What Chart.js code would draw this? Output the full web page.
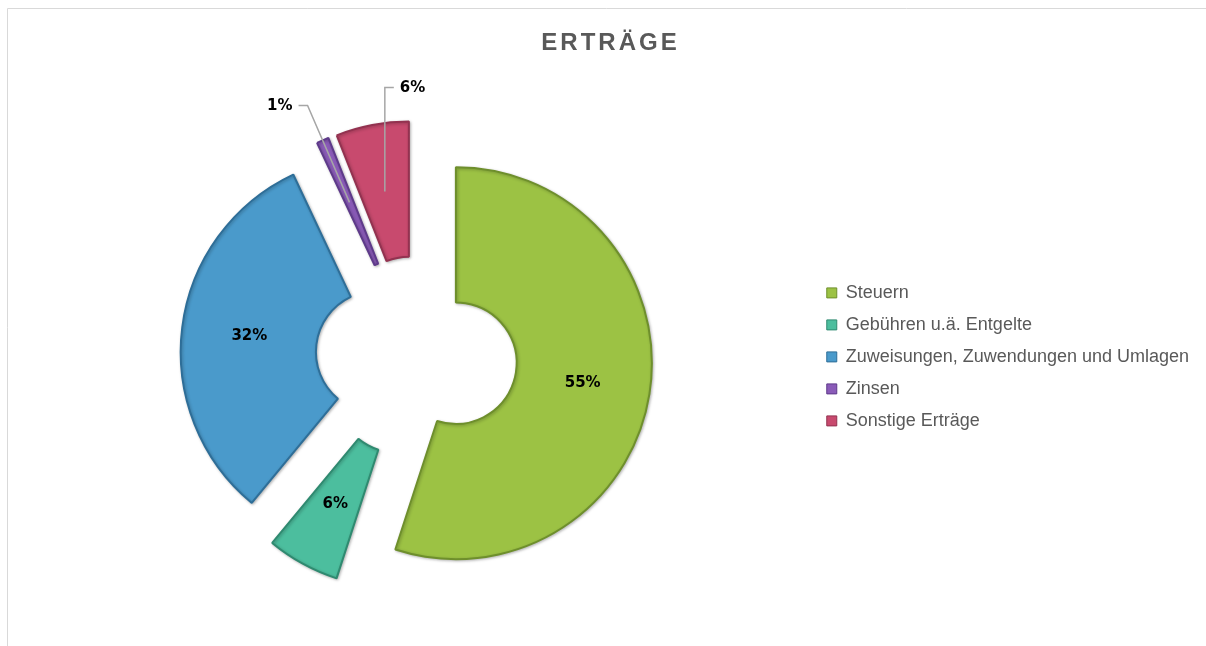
<!DOCTYPE html>
<html>
<head>
<meta charset="utf-8">
<title>Erträge</title>
<script src="https://cdn.jsdelivr.net/npm/chart.js@4.4.1/dist/chart.umd.min.js"></script>
<style>
  html, body { margin: 0; padding: 0; background: #fff; }
  canvas { display: block; }
</style>
</head>
<body>
<canvas id="chart" width="1206" height="646"></canvas>
<script>
'use strict';

// ── Data ────────────────────────────────────────────────────
const categories = [
  'Steuern',
  'Gebühren u.ä. Entgelte',
  'Zuweisungen, Zuwendungen und Umlagen',
  'Zinsen',
  'Sonstige Erträge'
];
const shares = [55, 6, 32, 1, 6];

// ── Styles ──────────────────────────────────────────────────
const fillColors = ['#9cc244', '#4cbe9e', '#4a9acb', '#8a5bb8', '#c84a6e'];
const edgeColors = ['#6e8f2c', '#2f8a70', '#2e6e98', '#5e3a8a', '#933250'];
// callouts for the thin slices: which side the text sits on, how far past the rim
const callouts = [null, null, null, { side: 'left', reach: 38 }, { side: 'right', reach: 34 }];

const SHIFT = 40;           // explode distance in px
const TEXT = '#595959';

// Chart.js v4 moves an arc by offset/4 but also pushes its radius out and
// trims its angle; undo both so every slice is a plain shifted copy
const keepRadius = {
  id: 'keepRadius',
  afterDatasetsUpdate(chart) {
    chart.getDatasetMeta(0).data.forEach(arc => {
      const move = (arc.options.offset || 0) / 4;
      const fix = 1 - Math.sin(Math.min(Math.PI, arc.circumference));
      const push = move * fix;
      const drawnR = arc.outerRadius;
      arc.outerRadius -= push;
      arc.innerRadius -= push;
      const trim = push / (2 * Math.PI * drawnR);
      arc.startAngle -= trim;
      arc.endAngle += trim;
    });
  }
};

// thin frame like the spreadsheet chart box + spaced title
const frame = {
  id: 'frame',
  beforeDraw(chart) {
    const ctx = chart.ctx;
    ctx.save();
    ctx.strokeStyle = '#d9d9d9';
    ctx.lineWidth = 1;
    ctx.beginPath();
    ctx.moveTo(7.5, chart.height);
    ctx.lineTo(7.5, 8.5);
    ctx.lineTo(chart.width, 8.5);
    ctx.stroke();
    ctx.restore();

    const tb = chart.titleBlock;
    if (tb && !tb._spaced) {
      const orig = tb.draw;
      tb.draw = function (...args) {
        ctx.save();
        ctx.letterSpacing = '3px';
        ctx.translate(1, 0);
        orig.apply(this, args);
        ctx.restore();
      };
      tb._spaced = true;
    }
  },
  // soft edge shadow, like the bevelled office slices
  beforeDatasetsDraw(chart) {
    const ctx = chart.ctx;
    ctx.save();
    ctx.shadowColor = 'rgba(0,0,0,0.25)';
    ctx.shadowBlur = 3;
    ctx.shadowOffsetX = 1;
    ctx.shadowOffsetY = 1;
  },
  afterDatasetsDraw(chart) {
    chart.ctx.restore();
  }
};

// percentage labels, inside the ring or with a leader line
const sliceLabels = {
  id: 'sliceLabels',
  afterDatasetsDraw(chart) {
    const meta = chart.getDatasetMeta(0);
    const R = meta.controller.outerRadius;
    const r = meta.controller.innerRadius;
    const ctx = chart.ctx;
    ctx.save();
    ctx.font = 'bold 15px "DejaVu Sans", Verdana, sans-serif';
    ctx.fillStyle = '#000';
    ctx.textBaseline = 'middle';

    meta.data.forEach((arc, i) => {
      const mid = (arc.startAngle + arc.endAngle) / 2;
      const move = (arc.options.offset || 0) / 4;
      const cx = arc.x + Math.cos(mid) * move;
      const cy = arc.y + Math.sin(mid) * move;
      const rm = (R + r) / 2;
      const ax = cx + Math.cos(mid) * rm;
      const ay = cy + Math.sin(mid) * rm;
      const text = shares[i] + '%';
      const co = callouts[i];

      if (!co) {
        ctx.textAlign = 'center';
        ctx.fillText(text, ax, ay);
        return;
      }

      let ex, ey;
      if (co.side === 'left') {
        ex = cx + Math.cos(mid) * (R + co.reach);
        ey = cy + Math.sin(mid) * (R + co.reach);
      } else {
        ex = ax;
        ey = cy - R - co.reach;
      }
      const dir = co.side === 'left' ? -1 : 1;
      ctx.strokeStyle = '#a6a6a6';
      ctx.lineWidth = 1.5;
      ctx.beginPath();
      ctx.moveTo(ax, ay);
      ctx.lineTo(ex, ey);
      ctx.lineTo(ex + dir * 9, ey);
      ctx.stroke();
      ctx.textAlign = co.side === 'left' ? 'right' : 'left';
      ctx.fillText(text, ex + dir * 15, ey + 1);
    });
    ctx.restore();
  }
};

const ctx = document.getElementById('chart').getContext('2d');
const chart = new Chart(ctx, {
  type: 'doughnut',
  data: {
    labels: categories,
    datasets: [{
      data: shares,
      backgroundColor: fillColors,
      borderColor: edgeColors,
      borderWidth: 2,
      offset: SHIFT * 4
    }]
  },
  options: {
    responsive: false,
    animation: false,
    events: [],
    radius: 196,
    cutout: '31%',
    layout: { padding: { top: 10, left: 20, right: 7, bottom: 0 } },
    plugins: {
      title: {
        display: true,
        text: 'ERTRÄGE',
        color: TEXT,
        font: { family: '"Liberation Sans", Arial, sans-serif', size: 24, weight: 'bold' },
        padding: { top: 19, bottom: 10 }
      },
      legend: {
        position: 'right',
        fullSize: false,
        align: 'center',
        labels: {
          color: TEXT,
          font: { family: '"Liberation Sans", Arial, sans-serif', size: 18 },
          boxWidth: 10,
          boxHeight: 10,
          padding: 14,
          generateLabels(c) {
            const base = Chart.overrides.doughnut.plugins.legend.labels.generateLabels(c);
            return base.map(it => ({ ...it, lineWidth: 1 }));
          }
        }
      },
      tooltip: { enabled: false }
    }
  },
  plugins: [keepRadius, frame, sliceLabels]
});
</script>
</body>
</html>
